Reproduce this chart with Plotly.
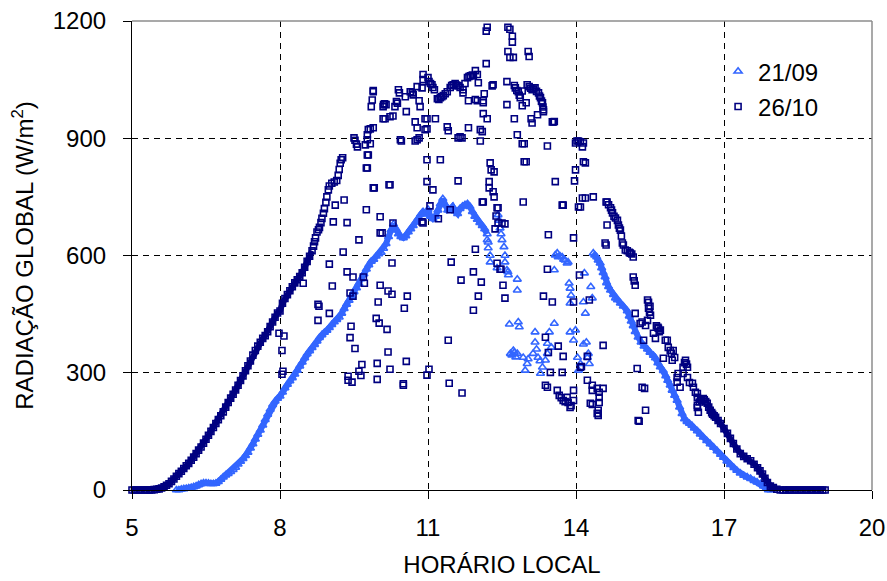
import plotly.graph_objects as go

# ---------------- 21/09 : radiação global (hora local, W/m2) ----------------
manha_2109 = [
    (5.90, 0), (5.95, 0), (6.00, 2), (6.05, 3), (6.10, 4), (6.15, 5), (6.20, 6), (6.25, 8),
    (6.30, 10), (6.35, 13), (6.40, 16), (6.45, 18), (6.50, 18), (6.55, 17), (6.60, 16), (6.65, 16),
    (6.70, 17), (6.75, 21), (6.80, 27), (6.85, 33), (6.90, 38), (6.95, 42), (7.00, 47), (7.05, 52),
    (7.10, 58), (7.15, 66), (7.20, 73), (7.25, 80), (7.30, 88), (7.35, 96), (7.40, 107), (7.45, 118),
    (7.50, 130), (7.55, 142), (7.60, 153), (7.65, 166), (7.70, 180), (7.75, 193), (7.80, 206),
    (7.85, 218), (7.90, 227), (7.95, 234), (8.00, 240), (8.05, 250), (8.10, 261), (8.15, 270),
    (8.20, 279), (8.25, 287), (8.30, 296), (8.35, 306), (8.40, 317), (8.45, 327), (8.50, 338),
    (8.55, 348), (8.60, 356), (8.65, 364), (8.70, 372), (8.75, 381), (8.80, 390), (8.85, 397),
    (8.90, 403), (8.95, 408), (9.00, 415), (9.05, 423), (9.10, 430), (9.15, 436), (9.20, 442),
    (9.25, 452), (9.30, 464), (9.35, 475), (9.40, 485), (9.45, 496), (9.50, 507), (9.55, 517),
    (9.60, 528), (9.65, 540), (9.70, 553), (9.75, 565), (9.80, 576), (9.85, 585), (9.90, 590),
    (9.95, 598), (10.00, 604), (10.05, 608), (10.10, 618), (10.15, 630), (10.20, 648), (10.25, 665),
    (10.30, 680), (10.35, 668), (10.40, 655), (10.45, 648), (10.50, 645), (10.55, 650), (10.60, 660),
    (10.65, 668), (10.70, 676), (10.75, 685), (10.80, 695), (10.85, 705), (10.90, 712), (10.95, 708),
    (11.00, 718), (11.05, 700), (11.10, 694), (11.15, 700), (11.20, 716), (11.25, 732), (11.30, 745),
    (11.35, 730), (11.40, 716), (11.45, 718), (11.50, 725), (11.55, 714), (11.60, 707), (11.65, 720),
    (11.70, 726), (11.75, 730), (11.80, 732), (11.85, 725), (11.90, 712), (11.95, 700), (12.00, 692),
    (12.05, 684), (12.10, 676), (12.15, 668), (12.20, 655),
]

nuvens_2109 = [
    (12.22, 634), (12.22, 619), (12.26, 583), (12.26, 600), (12.20, 640), (12.42, 704), (12.44, 690),
    (12.46, 670), (12.48, 655), (12.50, 640), (12.54, 622), (12.56, 583), (12.56, 600), (12.60, 563),
    (12.62, 558), (12.63, 550), (12.40, 568), (12.81, 539), (12.81, 511), (12.65, 424), (12.83, 430),
    (12.85, 417), (12.73, 357), (12.75, 352), (12.81, 349), (12.67, 349), (12.70, 345), (12.78, 340),
    (12.93, 339), (12.97, 306), (13.01, 323), (13.03, 335), (13.13, 349), (13.17, 404), (13.17, 378),
    (13.20, 360), (13.23, 339), (13.27, 330), (13.32, 314), (13.28, 298), (13.38, 332), (13.42, 349),
    (13.42, 375), (13.46, 404), (13.50, 365), (13.56, 426), (13.56, 563), (13.58, 601), (13.62, 606),
    (13.64, 596), (13.68, 598), (13.72, 596), (13.75, 590), (13.78, 588), (13.82, 580), (13.84, 583),
    (13.86, 529), (13.88, 516), (13.90, 498), (13.88, 478), (13.88, 404), (13.99, 409), (13.95, 383),
    (14.03, 339), (14.05, 306), (14.09, 323), (14.15, 373), (14.21, 378), (14.23, 339), (14.25, 349),
    (14.27, 323), (14.15, 481), (14.19, 452), (14.17, 555), (14.33, 491), (14.30, 520),
]

tarde_2109 = [
    (14.35, 606), (14.38, 601), (14.42, 596), (14.45, 588), (14.49, 580), (14.52, 568), (14.55, 556),
    (14.59, 545), (14.62, 530), (14.66, 520), (14.70, 511), (14.76, 500), (14.80, 491), (14.84, 486),
    (14.90, 478), (14.96, 470), (15.04, 458), (15.08, 445), (15.12, 432), (15.16, 420), (15.20, 405),
    (15.26, 391), (15.32, 378), (15.38, 368), (15.45, 360), (15.50, 352), (15.57, 344), (15.61, 338),
    (15.66, 325), (15.71, 315), (15.77, 305), (15.82, 292), (15.86, 280), (15.91, 268), (15.95, 255),
    (16.00, 242), (16.05, 229), (16.10, 212), (16.15, 195), (16.20, 182), (16.25, 175), (16.30, 170),
    (16.35, 165), (16.40, 158), (16.46, 151), (16.52, 143), (16.58, 135), (16.65, 126), (16.72, 118),
    (16.79, 109), (16.86, 100), (16.93, 91), (16.99, 83), (17.06, 74), (17.13, 65), (17.20, 57),
    (17.26, 50), (17.33, 43), (17.40, 37), (17.47, 33), (17.54, 29), (17.61, 24), (17.67, 20),
    (17.74, 16), (17.80, 10), (17.86, 4), (17.90, 0), (17.95, 0),
]

# ---------------- 26/10 : radiação global (hora local, W/m2) ----------------
manha_2610 = [
    (5.00, 0), (5.05, 0), (5.10, 0), (5.15, 0), (5.20, 0), (5.25, 0), (5.30, 0), (5.35, 0), (5.40, 0),
    (5.45, 1), (5.50, 2), (5.55, 3), (5.60, 5), (5.65, 8), (5.70, 12), (5.75, 16), (5.80, 22),
    (5.85, 28), (5.90, 35), (5.95, 42), (6.00, 48), (6.05, 55), (6.10, 62), (6.15, 68), (6.20, 76),
    (6.25, 84), (6.30, 93), (6.35, 102), (6.40, 110), (6.45, 120), (6.50, 130), (6.55, 140),
    (6.60, 150), (6.65, 160), (6.70, 170), (6.75, 180), (6.80, 190), (6.85, 200), (6.90, 212),
    (6.95, 224), (7.00, 235), (7.05, 245), (7.10, 256), (7.15, 268), (7.20, 280), (7.25, 292),
    (7.30, 305), (7.35, 318), (7.40, 330), (7.45, 345), (7.50, 357), (7.55, 368), (7.60, 378),
    (7.65, 388), (7.70, 395), (7.75, 405), (7.80, 418), (7.85, 430), (7.90, 442), (7.95, 453),
    (8.00, 458), (8.05, 478), (8.10, 490), (8.15, 500), (8.20, 510), (8.25, 520), (8.30, 530),
    (8.35, 538), (8.40, 546), (8.45, 556), (8.50, 570), (8.55, 585), (8.60, 598), (8.65, 612),
]

subida_2610 = [
    (8.68, 624), (8.70, 635), (8.72, 645), (8.75, 660), (8.78, 666), (8.80, 672), (8.83, 684),
    (8.85, 695), (8.88, 708), (8.90, 720), (8.93, 736), (8.95, 750), (8.98, 768), (9.00, 778),
    (9.05, 785), (9.10, 788), (9.15, 792), (9.18, 805), (9.20, 820), (9.22, 836), (9.24, 845),
    (9.27, 850),
]

topo_2610 = [
    (9.50, 901), (9.52, 895), (9.55, 885), (9.57, 878), (9.73, 883), (9.77, 896), (9.77, 909),
    (9.79, 922), (9.83, 924), (9.77, 857), (9.75, 824), (9.85, 981), (9.87, 998), (9.89, 1019),
    (9.89, 1022), (10.09, 981), (10.10, 986), (10.12, 988), (10.15, 986), (10.09, 950), (10.13, 950),
    (10.23, 955), (10.29, 957), (10.33, 981), (10.36, 994), (10.38, 990), (10.40, 1024), (10.42, 1016),
    (10.54, 1006), (10.56, 968), (10.64, 1019), (10.68, 1016), (10.70, 1011), (10.78, 1032),
    (10.82, 996), (10.84, 981), (10.88, 1029), (10.90, 1063), (10.90, 1050), (10.94, 922), (10.94, 950),
    (10.98, 950), (10.98, 924), (11.00, 1055), (11.02, 1045), (11.05, 1040), (11.08, 1037),
    (11.10, 1030), (11.13, 1024), (11.19, 1001), (11.22, 999), (11.25, 1004), (11.28, 1006),
    (11.31, 1009), (11.35, 1014), (11.39, 1019), (11.45, 1030), (11.48, 1035), (11.51, 1037),
    (11.55, 1040), (11.58, 1036), (11.61, 1034), (11.65, 1030), (11.71, 1024), (11.71, 1016),
    (11.75, 1040), (11.80, 1055), (11.83, 1058), (11.86, 1060), (11.90, 1062), (11.92, 1060),
    (11.96, 1073), (12.00, 1063), (12.02, 1042), (12.12, 996), (12.14, 1014), (12.12, 991),
    (12.12, 963), (12.20, 950), (12.18, 1091), (12.18, 1174), (12.20, 1184), (12.30, 1034),
    (12.32, 1037), (11.82, 996), (11.96, 999), (12.00, 996), (11.82, 927), (12.06, 922), (12.10, 917),
    (12.06, 893), (11.65, 904), (11.61, 901), (11.69, 901), (11.39, 929), (11.41, 919), (11.15, 950),
    (10.78, 927), (10.74, 942), (10.82, 901), (10.74, 893), (10.46, 893), (10.44, 896), (9.83, 886),
    (9.89, 927), (10.78, 896),
    (12.60, 1045), (12.62, 1184), (12.66, 1179), (12.71, 1161), (12.71, 1146), (12.62, 1122),
    (12.66, 1107), (12.73, 1107), (12.60, 986), (12.75, 1035), (12.77, 1029), (12.80, 1022),
    (12.83, 1019), (12.85, 1010), (12.87, 1004), (12.91, 1021), (12.91, 983), (12.99, 991),
    (12.75, 950), (12.81, 909), (12.91, 886), (12.95, 886), (12.95, 840), (12.99, 840), (13.03, 1122),
    (13.05, 1109), (13.01, 1037), (13.05, 1032), (13.08, 1028), (13.11, 1024), (13.14, 1026),
    (13.17, 1029), (13.20, 1020), (13.24, 1016), (13.26, 1008), (13.28, 1004), (13.30, 995),
    (13.32, 991), (13.33, 980), (13.34, 973), (13.34, 968), (13.22, 960), (13.09, 950), (13.11, 939),
    (13.52, 942), (13.54, 942), (13.56, 943), (13.42, 880), (13.58, 789), (13.72, 729),
    (13.99, 819), (13.97, 791), (13.99, 888), (14.02, 893), (14.05, 893), (14.09, 891), (14.13, 878),
    (14.15, 840), (14.19, 837), (14.15, 888),
]

meio_2610 = [
    (9.28, 609), (9.00, 578), (9.36, 558), (9.48, 545), (9.06, 522), (8.47, 529), (9.69, 545),
    (9.71, 529), (10.03, 524), (10.19, 509), (10.27, 501), (9.42, 504), (9.48, 496), (9.99, 481),
    (10.58, 496), (8.77, 475), (8.79, 470), (9.00, 452), (8.77, 434), (10.52, 465), (9.95, 439),
    (10.01, 427), (10.17, 411), (9.44, 419), (9.42, 390), (9.52, 362), (10.19, 353), (10.56, 329),
    (9.66, 321), (9.97, 324), (9.60, 304), (10.23, 309), (9.38, 291), (9.64, 293), (9.38, 281),
    (9.46, 276), (9.97, 283), (10.50, 272), (10.50, 268), (7.98, 401), (8.08, 394), (8.04, 357),
    (8.06, 304), (8.04, 296), (10.27, 581), (10.03, 658), (10.07, 658), (10.21, 781), (9.77, 824),
    (9.79, 857), (9.75, 717), (9.91, 773), (9.89, 773), (10.03, 699), (10.29, 683), (9.60, 640),
    (9.36, 684), (9.08, 686), (9.30, 742), (9.12, 729),
    (11.04, 727), (11.45, 717), (11.21, 694), (10.90, 683), (10.88, 686), (12.12, 737), (12.10, 737),
    (12.42, 722), (12.40, 722), (12.38, 701), (12.42, 683), (12.50, 683), (12.56, 681), (12.36, 668),
    (11.96, 616), (11.47, 583), (11.92, 558), (12.40, 580), (12.48, 565), (12.46, 565), (11.67, 537),
    (12.08, 532), (12.52, 524), (12.02, 496), (12.56, 491), (11.92, 460), (11.41, 383), (11.02, 309),
    (10.98, 294), (11.43, 273), (11.69, 248), (12.26, 837), (12.28, 819), (12.34, 814), (12.24, 789),
    (12.24, 773), (12.32, 763), (12.34, 750), (11.61, 791), (10.98, 845), (11.25, 845), (10.98, 789),
    (11.10, 768), (10.23, 781), (12.93, 737),
    (13.44, 653), (13.95, 645), (14.13, 747), (14.09, 724), (14.19, 747), (14.35, 750), (14.05, 724),
    (13.42, 565), (13.95, 481), (14.07, 550), (14.27, 486), (13.74, 729),
    (13.34, 496), (13.38, 391), (13.44, 352), (13.52, 481), (13.64, 368), (13.74, 342), (13.48, 301),
    (13.72, 301), (13.38, 268), (13.42, 263), (13.62, 255), (13.66, 242), (13.70, 236), (13.74, 229),
    (13.78, 226), (13.84, 224), (13.82, 237), (13.95, 255), (13.95, 229), (13.88, 211), (13.90, 216),
    (14.23, 281), (14.33, 268), (14.33, 255), (14.43, 260), (14.47, 250), (14.47, 237), (14.47, 224),
    (14.33, 219), (14.45, 204), (14.45, 191), (14.43, 196), (14.29, 222), (14.23, 342), (14.11, 316),
    (14.09, 314), (14.55, 370), (14.55, 260),
]

queda_2610 = [
    (14.61, 737), (14.63, 737), (14.66, 730), (14.70, 722), (14.72, 716), (14.74, 709), (14.77, 700),
    (14.80, 696), (14.84, 690), (14.86, 678), (14.88, 670), (14.90, 665), (14.92, 650), (14.94, 632),
    (14.96, 627), (15.00, 614), (15.04, 612), (15.08, 608), (15.10, 606), (15.13, 604), (15.16, 596),
    (14.63, 678), (14.59, 632), (14.61, 627), (15.16, 545), (15.20, 524), (15.18, 535),
    (15.20, 452), (15.24, 311), (15.30, 426), (15.34, 430), (15.37, 383), (15.41, 421), (15.45, 486),
    (15.47, 480), (15.47, 465), (15.49, 455), (15.51, 447), (15.50, 470), (15.45, 434), (15.57, 401),
    (15.61, 388), (15.63, 420), (15.66, 416), (15.67, 414), (15.69, 405), (15.71, 409), (15.77, 337),
    (15.81, 383), (15.85, 383), (15.87, 365), (15.91, 357), (15.93, 350), (15.95, 332), (15.97, 357),
    (16.00, 339), (16.05, 288), (16.05, 276), (16.07, 298), (16.11, 263), (16.17, 298), (16.17, 314),
    (16.20, 326), (16.22, 332), (16.24, 322), (16.26, 314), (16.26, 288), (16.30, 275), (16.36, 273),
    (16.38, 263), (16.42, 250), (16.46, 247), (16.46, 237), (16.46, 217), (16.46, 211), (16.48, 199),
    (16.50, 225), (16.53, 232), (16.55, 230), (16.58, 234), (16.60, 231), (16.63, 226),
    (15.26, 178), (15.28, 176), (15.34, 263), (15.39, 260), (15.41, 204),
]

cauda_2610 = [
    (16.66, 222), (16.69, 212), (16.72, 204), (16.75, 198), (16.77, 194), (16.80, 190), (16.83, 186),
    (16.88, 178), (16.93, 170), (17.00, 157), (17.07, 145), (17.13, 132), (17.19, 119), (17.26, 105),
    (17.33, 93), (17.40, 86), (17.47, 80), (17.54, 75), (17.61, 66), (17.68, 57), (17.73, 49),
    (17.78, 41), (17.83, 30), (17.88, 19), (17.94, 10), (18.00, 6), (18.07, 2), (18.14, 0), (18.20, 0),
    (18.25, 0), (18.30, 0), (18.35, 0), (18.40, 0), (18.45, 0), (18.50, 0), (18.55, 0), (18.60, 0),
    (18.65, 0), (18.70, 0), (18.75, 0), (18.80, 0), (18.85, 0), (18.90, 0), (18.95, 0), (19.00, 0),
    (19.05, 0),
]

serie_2109 = manha_2109 + nuvens_2109 + tarde_2109
serie_2610 = manha_2610 + subida_2610 + topo_2610 + meio_2610 + queda_2610 + cauda_2610

x_ticks = [5, 8, 11, 14, 17, 20]
y_ticks = [0, 300, 600, 900, 1200]

COR_2109 = "#3366FF"
COR_2610 = "#000080"
FONTE = "Liberation Sans, Arial, sans-serif"


def xs(pts):
    return [p[0] for p in pts]


def ys(pts):
    return [p[1] for p in pts]


fig = go.Figure()

# trechos contínuos (registro a cada minuto): faixa densa de pontos
for trecho, cor in [(manha_2109, COR_2109), (tarde_2109, COR_2109)]:
    fig.add_trace(go.Scatter(x=xs(trecho), y=ys(trecho), mode="lines", showlegend=False,
                             hoverinfo="skip", cliponaxis=False,
                             line=dict(color=cor, width=6)))

fig.add_trace(go.Scatter(
    x=xs(serie_2109), y=ys(serie_2109),
    mode="markers", name="21/09", legendgroup="a", cliponaxis=False,
    marker=dict(symbol="triangle-up-open", size=7, color=COR_2109, line=dict(width=1.6, color=COR_2109)),
))

for trecho in [manha_2610, cauda_2610]:
    fig.add_trace(go.Scatter(x=xs(trecho), y=ys(trecho), mode="lines", showlegend=False,
                             hoverinfo="skip", cliponaxis=False,
                             line=dict(color=COR_2610, width=6)))

fig.add_trace(go.Scatter(
    x=xs(serie_2610), y=ys(serie_2610),
    mode="markers", name="26/10", legendgroup="b", cliponaxis=False,
    marker=dict(symbol="square-open", size=6, color=COR_2610, line=dict(width=1.6, color=COR_2610)),
))

eixo = dict(
    showline=True, linecolor="black", linewidth=1.2, automargin=False,
    ticks="outside", ticklen=8, tickcolor="black", tickwidth=1,
    showgrid=True, gridcolor="black", gridwidth=1, griddash="6px,5px",
    zeroline=False, tickfont=dict(family=FONTE, size=24, color="black"),
)

fig.update_xaxes(
    range=[5, 20], tickvals=x_ticks, ticktext=[str(v) for v in x_ticks], ticklabelstandoff=8,
    title=dict(text="HORÁRIO LOCAL", font=dict(family=FONTE, size=24, color="black"), standoff=16),
    **eixo,
)
fig.update_yaxes(
    range=[0, 1200], tickvals=y_ticks, ticktext=[str(v) for v in y_ticks], ticklabelstandoff=12,
    title=dict(text="RADIAÇÃO GLOBAL (W/m<sup>2</sup>)", font=dict(family=FONTE, size=24, color="black"),
               standoff=12),
    **eixo,
)

# moldura superior e direita em cinza
fig.add_shape(type="line", xref="paper", yref="paper", x0=0, x1=1, y0=1, y1=1,
              line=dict(color="#8c8c8c", width=1.5), layer="above")
fig.add_shape(type="line", xref="paper", yref="paper", x0=1, x1=1, y0=0, y1=1,
              line=dict(color="#8c8c8c", width=1.5), layer="above")

fig.update_layout(
    width=887, height=581,
    margin=dict(l=132, r=15, t=21, b=91, autoexpand=False),
    plot_bgcolor="white", paper_bgcolor="white",
    font=dict(family=FONTE, size=24, color="black"),
    showlegend=True,
    legend=dict(
        x=0.792, y=0.94, xanchor="left", yanchor="top",
        bgcolor="rgba(255,255,255,0)", borderwidth=0,
        font=dict(family=FONTE, size=24, color="black"),
        tracegroupgap=1, itemsizing="trace",
    ),
)

fig.write_html("out.html")
